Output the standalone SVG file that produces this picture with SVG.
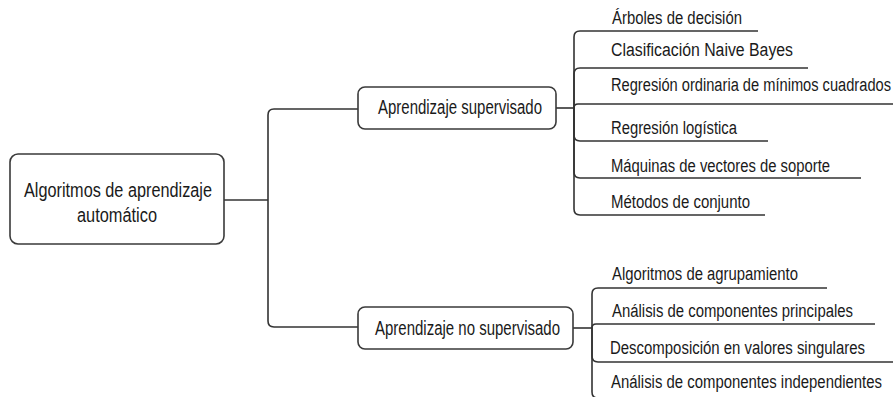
<svg xmlns="http://www.w3.org/2000/svg" width="893" height="397" viewBox="0 0 893 397">
<style>
.box{fill:#fff;stroke:#3a3a3a;stroke-width:1.6}
.ln{fill:none;stroke:#333;stroke-width:1.6}
.t{font-family:"Liberation Sans",Arial,sans-serif;fill:#1a1a1a}
.big{font-size:20px}
.sm{font-size:18px}
</style>
<rect width="893" height="397" fill="#fff"/>
<g id="connectors">
<path class="ln" d="M224,200 H268"/>
<path class="ln" d="M268,200 V115 Q268,109 274,109 H358"/>
<path class="ln" d="M268,200 V321 Q268,327 274,327 H358"/>
<path class="ln" d="M556,108 H574"/>
<path class="ln" d="M574,108 V37 Q574,31 580,31 H758"/>
<path class="ln" d="M574,108 V74 Q574,68 580,68 H808"/>
<path class="ln" d="M574,108 Q574,104 578,104 H893"/>
<path class="ln" d="M574,108 V135 Q574,141 580,141 H768"/>
<path class="ln" d="M574,108 V172 Q574,178 580,178 H861"/>
<path class="ln" d="M574,108 V209 Q574,215 580,215 H765"/>
<path class="ln" d="M573,328 H592"/>
<path class="ln" d="M592,328 V294 Q592,288 598,288 H827"/>
<path class="ln" d="M592,328 Q592,324 596,324 H875"/>
<path class="ln" d="M592,328 V356 Q592,362 598,362 H893"/>
<path class="ln" d="M592,328 V392 Q592,398 598,398 H893"/>
</g>
<g id="root">
<rect class="box" x="10" y="154" width="214" height="90" rx="8"/>
<text class="t big" x="24" y="197" textLength="188" lengthAdjust="spacingAndGlyphs">Algoritmos de aprendizaje</text>
<text class="t big" x="77" y="222" textLength="80" lengthAdjust="spacingAndGlyphs">automático</text>
</g>
<g id="supervisado">
<rect class="box" x="358" y="87" width="198" height="42" rx="7"/>
<text class="t big" x="378" y="114" textLength="164" lengthAdjust="spacingAndGlyphs">Aprendizaje supervisado</text>
</g>
<g id="no-supervisado">
<rect class="box" x="358" y="307" width="215" height="42" rx="7"/>
<text class="t big" x="375" y="335" textLength="185" lengthAdjust="spacingAndGlyphs">Aprendizaje no supervisado</text>
</g>
<g id="arboles"><text class="t sm" x="612" y="24" textLength="130" lengthAdjust="spacingAndGlyphs">Árboles de decisión</text></g>
<g id="naive-bayes"><text class="t sm" x="611" y="56" textLength="182" lengthAdjust="spacingAndGlyphs">Clasificación Naive Bayes</text></g>
<g id="regresion-ordinaria"><text class="t sm" x="611" y="91" textLength="280" lengthAdjust="spacingAndGlyphs">Regresión ordinaria de mínimos cuadrados</text></g>
<g id="regresion-logistica"><text class="t sm" x="611" y="134" textLength="126" lengthAdjust="spacingAndGlyphs">Regresión logística</text></g>
<g id="svm"><text class="t sm" x="611" y="172" textLength="219" lengthAdjust="spacingAndGlyphs">Máquinas de vectores de soporte</text></g>
<g id="conjunto"><text class="t sm" x="611" y="208" textLength="139" lengthAdjust="spacingAndGlyphs">Métodos de conjunto</text></g>
<g id="agrupamiento"><text class="t sm" x="612" y="280" textLength="186" lengthAdjust="spacingAndGlyphs">Algoritmos de agrupamiento</text></g>
<g id="pca"><text class="t sm" x="612" y="317" textLength="241" lengthAdjust="spacingAndGlyphs">Análisis de componentes principales</text></g>
<g id="svd"><text class="t sm" x="610" y="354" textLength="255" lengthAdjust="spacingAndGlyphs">Descomposición en valores singulares</text></g>
<g id="ica"><text class="t sm" x="611" y="388" textLength="271" lengthAdjust="spacingAndGlyphs">Análisis de componentes independientes</text></g>
</svg>
